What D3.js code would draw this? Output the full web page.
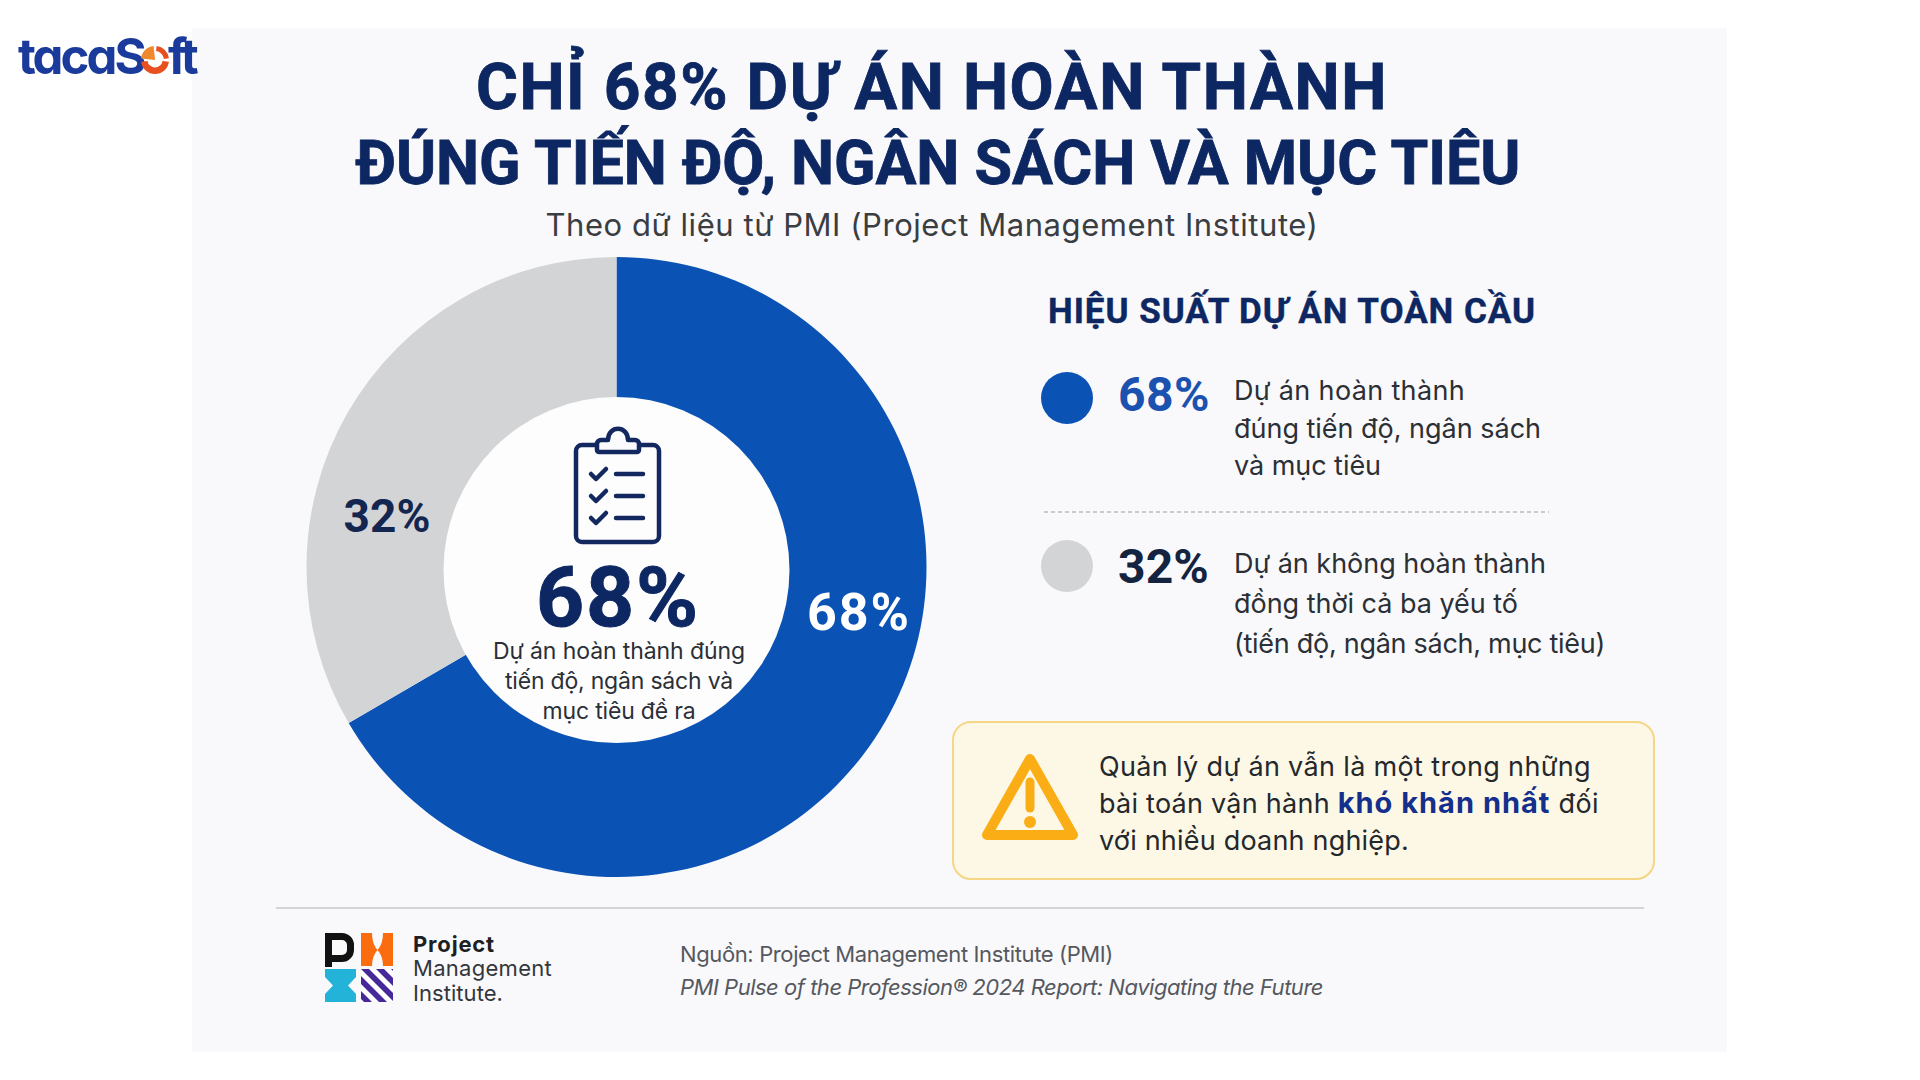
<!DOCTYPE html>
<html><head><meta charset="utf-8">
<style>html,body{margin:0;padding:0;background:#fff;overflow:hidden}svg{display:block}</style>
<script src="https://cdn.jsdelivr.net/npm/d3@7"></script></head><body>
<svg id="c" width="1920" height="1080"></svg>
<script>
const categories=["Hoàn thành","Không hoàn thành"];
// Wedge shares as actually drawn in the picture (the boundary sits near 240 degrees),
// the printed labels below say 68% / 32%.
const sliceValues=[66.6,33.4];
const sliceLabels=["68%","32%"];
const sliceColors=["#0b52b5","#d3d4d6"];
const titleLines=["CHỈ 68% DỰ ÁN HOÀN THÀNH","ĐÚNG TIẾN ĐỘ, NGÂN SÁCH VÀ MỤC TIÊU"];
const subtitle="Theo dữ liệu từ PMI (Project Management Institute)";
const legendTitle="HIỆU SUẤT DỰ ÁN TOÀN CẦU";
const legendText=[["Dự án hoàn thành","đúng tiến độ, ngân sách","và mục tiêu"],["Dự án không hoàn thành","đồng thời cả ba yếu tố","(tiến độ, ngân sách, mục tiêu)"]];
const legendWidths=[[231,307,147],[312,284,371]];
const centerText=["Dự án hoàn thành đúng","tiến độ, ngân sách và","mục tiêu đề ra"];
const centerWidths=[252,228,153];
const F="Inter, 'Noto Sans', sans-serif", H="Roboto, Inter, sans-serif";
const NAVY="#0d2762", INK="#2b2f36";
const svg=d3.select("#c");
function T(x,y,s,size,fill,weight,anchor,o){
  o=o||{};
  const t=svg.append("text").attr("x",x).attr("y",y).attr("font-family",o.font||F).attr("font-size",size)
   .attr("fill",fill).attr("font-weight",weight||400).attr("text-anchor",anchor||"start").text(s);
  if(o.style)t.attr("font-style",o.style);
  if(o.bold)t.attr("stroke",fill).attr("stroke-width",o.bold);
  if(o.w)fit(t,o.w);
  return t;
}
function fit(t,w){
  const n=t.text().length, len=t.node().getComputedTextLength();
  t.attr("letter-spacing",((w-len)/n).toFixed(3));
}
svg.append("rect").attr("x",192).attr("y",28).attr("width",1535).attr("height",1024).attr("fill","#f9f9fb");
// logo
const LOGO="#1a3a9c";
T(18,74,"tacaS",49,LOGO,700,"start",{w:122}).style("font-feature-settings","'cv11'");
T(168,74,"ft",49,LOGO,700,"start",{w:26});
svg.append("path").attr("d",d3.arc()({innerRadius:7.5,outerRadius:14,startAngle:Math.PI/2+0.12,endAngle:Math.PI*1.5-0.12})).attr("transform","translate(155,60)").attr("fill","#e8501f");
svg.append("path").attr("d",d3.arc()({innerRadius:0,outerRadius:14,startAngle:-Math.PI/2+0.1,endAngle:-0.1})).attr("transform","translate(155,60)").attr("fill","#f0882e");
svg.append("path").attr("d",d3.arc()({innerRadius:9,outerRadius:14,startAngle:0.12,endAngle:Math.PI/2-0.12})).attr("transform","translate(155,60)").attr("fill","#e8501f");
// title
T(932,109,titleLines[0],64,NAVY,700,"middle",{font:H,w:912,bold:0.8});
T(938,184,titleLines[1],61,NAVY,700,"middle",{font:H,w:1165,bold:0.8});
T(932,236,subtitle,31,"#3a3d42",400,"middle",{w:773});
// donut
const cx=616.5,cy=567,R=310;
const pie=d3.pie().sort(null)(sliceValues);
const arc=d3.arc().innerRadius(120).outerRadius(R);
const g=svg.append("g").attr("transform",`translate(${cx},${cy})`);
g.selectAll("path").data(pie).join("path").attr("d",arc).attr("fill",(d,i)=>sliceColors[i]);
svg.append("circle").attr("cx",cx).attr("cy",570).attr("r",173).attr("fill","#fdfdfe");
T(859,630,sliceLabels[0],52,"#fff",700,"middle",{font:H,w:104});
T(387,532,sliceLabels[1],46,"#13264f",700,"middle",{font:H,w:87});
T(618,626,sliceLabels[0],84,NAVY,700,"middle",{font:H,w:164,bold:1});
centerText.forEach((s,i)=>T(619,659+i*30,s,23,INK,400,"middle",{w:centerWidths[i]}));
// clipboard
const ic=svg.append("g").attr("fill","none").attr("stroke","#13285f").attr("stroke-width",4.5).attr("stroke-linecap","round").attr("stroke-linejoin","round");
ic.append("rect").attr("x",576).attr("y",445).attr("width",83).attr("height",97).attr("rx",6);
ic.append("path").attr("d","M597 450v-6a4 4 0 0 1 4-4h7C608 425 628 425 628 440h7a4 4 0 0 1 4 4v6a2 2 0 0 1-2 2h-38a2 2 0 0 1-2-2z").attr("fill","#fbfbfd");
[0,22,44].forEach(d=>{ic.append("path").attr("d",`M591 ${474+d}l5 5l10-10`);ic.append("path").attr("d",`M616 ${474+d}h27`);});
// legend
T(1048,323,legendTitle,35,NAVY,700,"start",{font:H,w:488,bold:0.4});
svg.append("circle").attr("cx",1067).attr("cy",398).attr("r",26).attr("fill",sliceColors[0]);
svg.append("circle").attr("cx",1067).attr("cy",566).attr("r",26).attr("fill",sliceColors[1]);
T(1118,411,sliceLabels[0],48,"#1b52b0",700,"start",{font:H,w:92});
T(1118,583,sliceLabels[1],48,"#14233f",700,"start",{font:H,w:91});
legendText[0].forEach((s,i)=>T(1234,400+i*37.5,s,27,INK,400,"start",{w:legendWidths[0][i]}));
legendText[1].forEach((s,i)=>T(1234,573+i*40,s,27,INK,400,"start",{w:legendWidths[1][i]}));
svg.append("line").attr("x1",1044).attr("x2",1549).attr("y1",512).attr("y2",512).attr("stroke","#b9bcc0").attr("stroke-width",1.6).attr("stroke-dasharray","4 3");
// callout
svg.append("rect").attr("x",953).attr("y",722).attr("width",701).attr("height",157).attr("rx",18).attr("fill","#fdf8e6").attr("stroke","#f4d684").attr("stroke-width",2);
const w=svg.append("g");
w.append("path").attr("d","M1030 759L1073 835H987Z").attr("fill","none").attr("stroke","#fbad16").attr("stroke-width",10).attr("stroke-linejoin","round");
w.append("path").attr("d","M1030 782V808").attr("stroke","#fbad16").attr("stroke-width",9).attr("stroke-linecap","round");
w.append("circle").attr("cx",1030).attr("cy",822).attr("r",6).attr("fill","#fbad16");
T(1099,776,"Quản lý dự án vẫn là một trong những",27,"#24272c",400,"start",{w:492});
const l2=T(1099,813,"bài toán vận hành ",27,"#24272c",400);
l2.attr("letter-spacing",0.25);
l2.append("tspan").attr("font-weight",700).attr("font-size",29).attr("fill","#14308c").attr("letter-spacing",1).text("khó khăn nhất");
l2.append("tspan").attr("letter-spacing",0.4).text(" đối");
T(1099,850,"với nhiều doanh nghiệp.",27,"#24272c",400,"start",{w:310});
// footer
svg.append("line").attr("x1",276).attr("x2",1644).attr("y1",908).attr("y2",908).attr("stroke","#d3d5d8").attr("stroke-width",2);
T(680,962,"Nguồn: Project Management Institute (PMI)",22,"#55585e",400,"start",{w:433});
T(680,995,"PMI Pulse of the Profession® 2024 Report: Navigating the Future",22,"#55585e",400,"start",{style:"italic",w:643});
// PMI logo
const lg=svg.append("g");
lg.append("path").attr("d","M325 933h17a12 12 0 0 1 12 12v5a12 12 0 0 1-12 12h-10v5h-7z M332 940v15h10a5 5 0 0 0 5-5v-5a5 5 0 0 0-5-5z").attr("fill","#111").attr("fill-rule","evenodd");
lg.append("path").attr("d","M361 933H372Q372 944 377.5 950Q372 956 372 966H361Z").attr("fill","#fb6c0f");
lg.append("path").attr("d","M393 933H383Q383 944 377.5 950Q383 956 383 966H393Z").attr("fill","#fb6c0f");
lg.append("path").attr("d","M325 969H356V977L348 985.5L356 994V1002H325V994L333 985.5L325 977Z").attr("fill","#23b3d9");
const defs=svg.append("defs");
defs.append("clipPath").attr("id","pmiClip").append("rect").attr("x",361).attr("y",969).attr("width",32).attr("height",33);
const st=lg.append("g").attr("clip-path","url(#pmiClip)");
st.append("rect").attr("x",361).attr("y",969).attr("width",32).attr("height",33).attr("fill","#fff");
[-2,-1,0,1,2].forEach(i=>st.append("path").attr("d",`M${361+i*15} 969h8l33 33h-8z`).attr("fill","#47289b"));
T(413,952,"Project",22,"#1d1f23",700,"start",{w:82});
T(413,976,"Management",22,"#33363b",400,"start",{w:139});
T(413,1001,"Institute.",22,"#33363b",400,"start",{w:90});
</script></body></html>
